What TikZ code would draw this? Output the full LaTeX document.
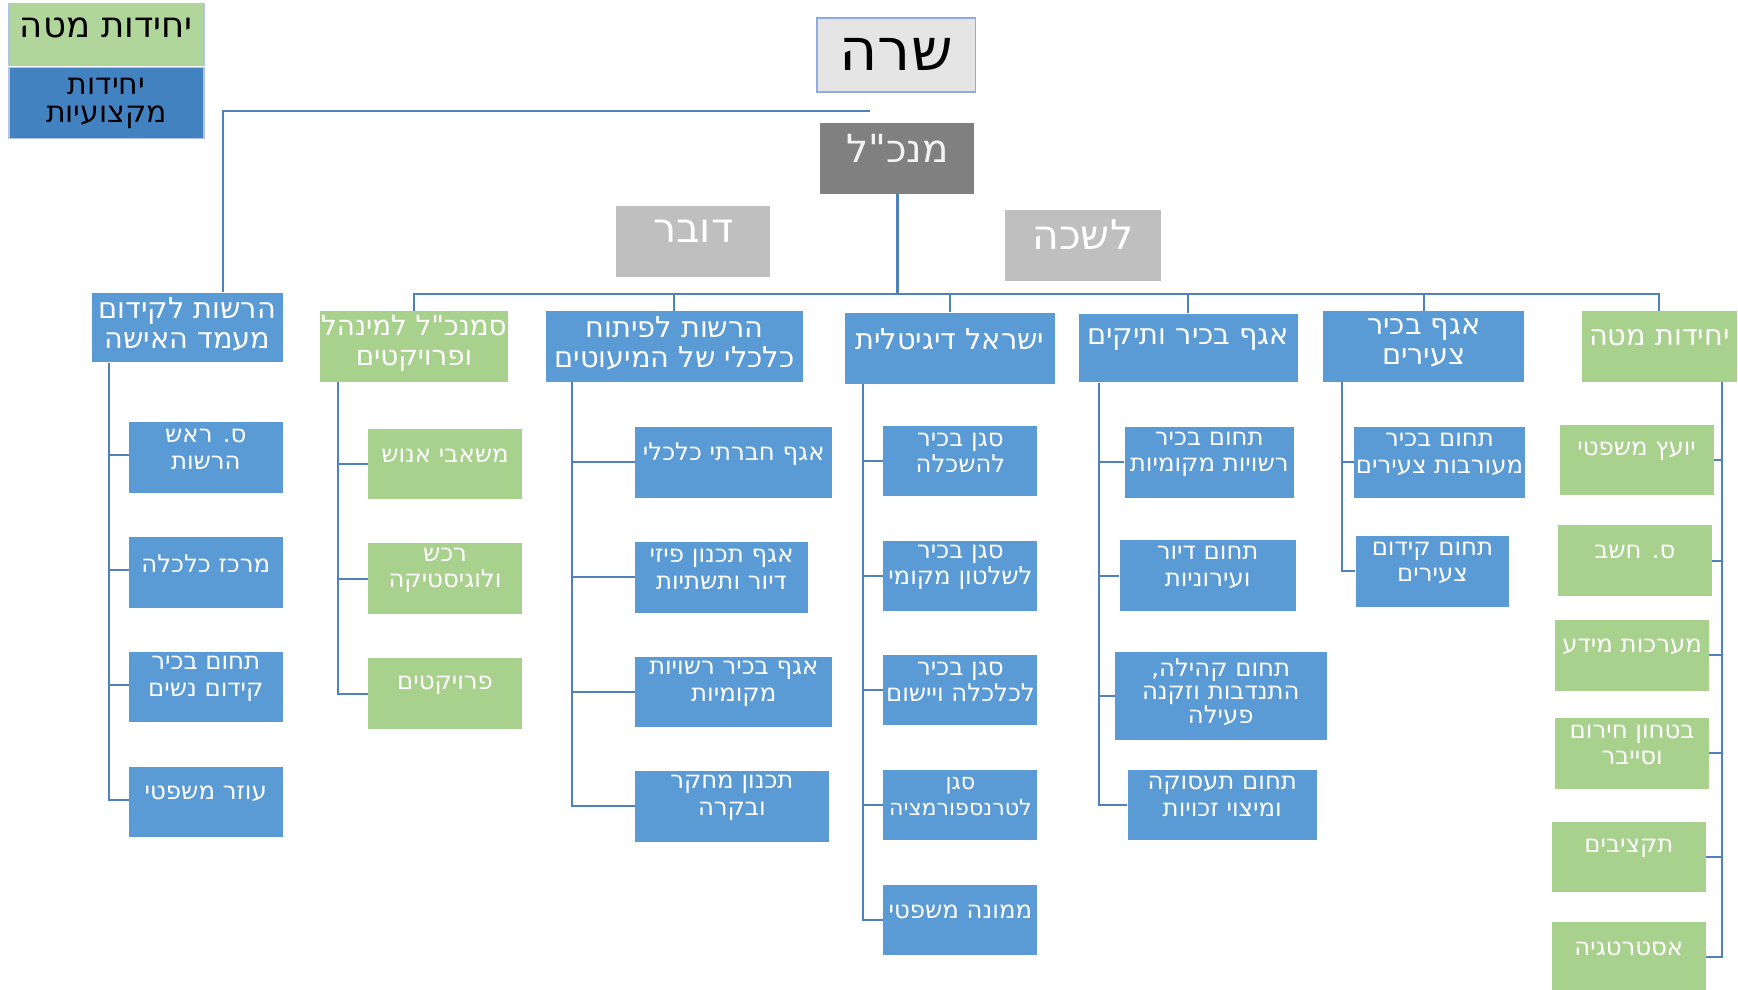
\documentclass[tikz,border=0pt]{standalone}
\usepackage{fontspec}
\setmainfont{DejaVu Sans}[Script=Hebrew, Ligatures=TeXOff]
\TeXXeTstate=1
\definecolor{unitblue}{HTML}{5B9BD5}
\definecolor{unitgreen}{HTML}{A9D18E}
\definecolor{linkblue}{HTML}{4F81BD}
\definecolor{keyblue}{HTML}{4382C1}
\definecolor{keygreen}{HTML}{B0D69B}
\definecolor{frameblue}{HTML}{8FAADC}

\begin{document}
\begin{tikzpicture}
    [
        x=1pt, y=-1pt,
        box_node/.style={rectangle, inner sep=0pt, minimum height=63.5},
        blue_node/.style={box_node, fill=unitblue},
        green_node/.style={box_node, fill=unitgreen},
        gray_node/.style={box_node, fill=black!25, minimum width=139, minimum height=64},
        head_text/.style={text=white, font=\fontsize{37}{40}\selectfont, yshift=9.5},
        text_two/.style={align=center, text=white, font=\fontsize{26}{27}\selectfont, yshift=3},
        text_three/.style={align=center, text=white, font=\fontsize{22}{24}\selectfont, yshift=7.5},
        line_blue/.style={draw=linkblue, line width=1.8},
    ]

  \path[use as bounding box, fill=white] (0,0) rectangle (1568,893);

  % legend
  \node[box_node, fill=keygreen, draw=frameblue!70, line width=1.2, minimum width=176, minimum height=56, label={[font=\fontsize{32}{34}\selectfont, yshift=5.5]center:{\beginR יחידות מטה\endR}}] (key_staff) at (96,31) {};
  \node[box_node, fill=keyblue, draw=frameblue!70, line width=1.2, minimum width=176, minimum height=64, label={[align=center, font=\fontsize{27}{25}\selectfont]center:{\beginR יחידות\endR\\\beginR מקצועיות\endR}}] (key_prof) at (96,93) {};

  % top
  \node[box_node, fill=black!10, draw=frameblue, line width=1.5, minimum width=143, minimum height=66.5, label={[font=\fontsize{53}{56}\selectfont]center:{\beginR שרה\endR}}] (minister) at (808.5,49.5) {};
  \node[box_node, fill=black!50, minimum width=139, minimum height=64, label={[head_text, text=black!5, font=\fontsize{35}{38}\selectfont]center:{\beginR מנכ"ל\endR}}] (dg) at (809.5,143) {};
  \node[gray_node, label={[head_text]center:{\beginR דובר\endR}}] (spokesman) at (625.5,218) {};
  \node[gray_node, minimum width=140, label={[head_text]center:{\beginR לשכה\endR}}] (bureau) at (977,221.3) {};

  % second level
  \node[blue_node, minimum width=172, minimum height=63, label={[text_two]center:{\beginR הרשות לקידום\endR\\\beginR מעמד האישה\endR}}] (isha) at (169,295.5) {};
  \node[green_node, minimum width=169, label={[text_two, font=\fontsize{25}{27}\selectfont]center:{\beginR סמנכ"ל למינהל\endR\\\beginR ופרויקטים\endR}}] (segan) at (373.5,312.75) {};
  \node[blue_node, minimum width=231, label={[text_two]center:{\beginR הרשות לפיתוח\endR\\\beginR כלכלי של המיעוטים\endR}}] (minor) at (608.5,312.5) {};
  \node[blue_node, minimum width=190, minimum height=64, label={[text_two, yshift=5]center:{\beginR ישראל דיגיטלית\endR}}] (digital) at (857,314) {};
  \node[blue_node, minimum width=198, minimum height=62, label={[text_two, yshift=5]center:{\beginR אגף בכיר ותיקים\endR}}] (vatikim) at (1072,314) {};
  \node[blue_node, minimum width=181, label={[text_two]center:{\beginR אגף בכיר\endR\\\beginR צעירים\endR}}] (tzeirim) at (1284.5,312.5) {};
  \node[green_node, minimum width=140, label={[text_two, yshift=5]center:{\beginR יחידות מטה\endR}}] (mate) at (1497,312.5) {};

  % women
  \node[blue_node, minimum width=139, label={[text_three]center:{\beginR ס. ראש\endR\\\beginR הרשות\endR}}] (a1) at (185.7,412.75) {};
  \node[blue_node, minimum width=139, label={[text_three]center:{\beginR מרכז כלכלה\endR}}] (a2) at (185.7,516.35) {};
  \node[blue_node, minimum width=139, label={[text_three]center:{\beginR תחום בכיר\endR\\\beginR קידום נשים\endR}}] (a3) at (185.7,619.7) {};
  \node[blue_node, minimum width=139, label={[text_three]center:{\beginR עוזר משפטי\endR}}] (a4) at (185.7,723.35) {};

  % administration
  \node[green_node, minimum width=139, label={[text_three]center:{\beginR משאבי אנוש\endR}}] (b1) at (401.5,418.75) {};
  \node[green_node, minimum width=139, label={[text_three]center:{\beginR רכש\endR\\\beginR ולוגיסטיקה\endR}}] (b2) at (401.5,522) {};
  \node[green_node, minimum width=139, label={[text_three]center:{\beginR פרויקטים\endR}}] (b3) at (401.5,625.7) {};

  % minorities
  \node[blue_node, minimum width=178, label={[text_three]center:{\beginR אגף חברתי כלכלי\endR}}] (c1) at (662,417.25) {};
  \node[blue_node, minimum width=156, label={[text_three]center:{\beginR אגף תכנון פיזי\endR\\\beginR דיור ותשתיות\endR}}] (c2) at (651,521) {};
  \node[blue_node, minimum width=178, label={[text_three]center:{\beginR אגף בכיר רשויות\endR\\\beginR מקומיות\endR}}] (c3) at (662,624.25) {};
  \node[blue_node, minimum width=174.6, label={[text_three]center:{\beginR תכנון מחקר\endR\\\beginR ובקרה\endR}}] (c4) at (660.3,727.5) {};

  % digital
  \node[blue_node, minimum width=139, label={[text_three]center:{\beginR סגן בכיר\endR\\\beginR להשכלה\endR}}] (d1) at (866.5,416) {};
  \node[blue_node, minimum width=139, label={[text_three]center:{\beginR סגן בכיר\endR\\\beginR לשלטון מקומי\endR}}] (d2) at (866.5,519.4) {};
  \node[blue_node, minimum width=139, label={[text_three]center:{\beginR סגן בכיר\endR\\\beginR לכלכלה ויישום\endR}}] (d3) at (866.5,622.7) {};
  \node[blue_node, minimum width=139, label={[text_three, font=\fontsize{20}{24}\selectfont]center:{\beginR סגן\endR\\\beginR לטרנספורמציה\endR}}] (d4) at (866.5,726.35) {};
  \node[blue_node, minimum width=139, label={[text_three]center:{\beginR ממונה משפטי\endR}}] (d5) at (866.5,829.9) {};

  % seniors
  \node[blue_node, minimum width=153, label={[text_three]center:{\beginR תחום בכיר\endR\\\beginR רשויות מקומיות\endR}}] (e1) at (1091,417.25) {};
  \node[blue_node, minimum width=159, label={[text_three]center:{\beginR תחום דיור\endR\\\beginR ועירוניות\endR}}] (e2) at (1089.5,519.25) {};
  \node[blue_node, minimum width=191.3, minimum height=80, label={[text_three, font=\fontsize{22}{20.5}\selectfont, yshift=-4]center:{\beginR תחום קהילה,\endR\\\beginR התנדבות וזקנה\endR\\\beginR פעילה\endR}}] (e3) at (1101.4,628) {};
  \node[blue_node, minimum width=170.6, label={[text_three]center:{\beginR תחום תעסוקה\endR\\\beginR ומיצוי זכויות\endR}}] (e4) at (1102.7,726) {};

  % youth
  \node[blue_node, minimum width=154.3, label={[text_three]center:{\beginR תחום בכיר\endR\\\beginR מעורבות צעירים\endR}}] (f1) at (1298.75,417.25) {};
  \node[blue_node, minimum width=138.7, label={[text_three]center:{\beginR תחום קידום\endR\\\beginR צעירים\endR}}] (f2) at (1292.35,515.45) {};

  % staff
  \node[green_node, minimum width=139, label={[text_three]center:{\beginR יועץ משפטי\endR}}] (g1) at (1476.5,414.8) {};
  \node[green_node, minimum width=139, label={[text_three]center:{\beginR ס. חשב\endR}}] (g2) at (1475,505.7) {};
  \node[green_node, minimum width=139, label={[text_three]center:{\beginR מערכות מידע\endR}}] (g3) at (1472.5,591.25) {};
  \node[green_node, minimum width=139, label={[text_three]center:{\beginR בטחון חירום\endR\\\beginR וסייבר\endR}}] (g4) at (1472.5,679.65) {};
  \node[green_node, minimum width=139, label={[text_three]center:{\beginR תקציבים\endR}}] (g5) at (1469.5,773) {};
  \node[green_node, minimum width=139, label={[text_three]center:{\beginR אסטרטגיה\endR}}] (g6) at (1469.5,863.5) {};

  % links
  \coordinate (aside) at (785,100);
  \coordinate (bus) at (809.5,265);
  \draw[line_blue] (aside) -| ([xshift=32]isha.north);
  \draw[line_blue, line width=2.4] (dg.south) -- (bus);
  \foreach \u in {segan, minor, digital, vatikim, tzeirim, mate}
    \draw[line_blue] (bus) -| (\u.north);

  \foreach \k in {a1, a2, a3, a4}
    \draw[line_blue] ([xshift=15.6]isha.south west) |- ([yshift=2]\k.west);
  \foreach \k in {b1, b2, b3}
    \draw[line_blue] ([xshift=16.2]segan.south west) |- (\k.west);
  \foreach \k in {c1, c2, c3, c4}
    \draw[line_blue] ([xshift=22.8]minor.south west) |- (\k.west);
  \foreach \k in {d1, d2, d3, d4, d5}
    \draw[line_blue] ([xshift=17]digital.south west) |- (\k.west);
  \foreach \k in {e1, e2, e3, e4}
    \draw[line_blue] ([xshift=18.8]vatikim.south west) |- (\k.west);
  \foreach \k in {f1, f2}
    \draw[line_blue] ([xshift=17]tzeirim.south west) |- (\k.west);
  \foreach \k in {g1, g2, g3, g4, g5, g6}
    \draw[line_blue] ([xshift=-13.6]mate.south east) |- (\k.east);
\end{tikzpicture}
\end{document}
